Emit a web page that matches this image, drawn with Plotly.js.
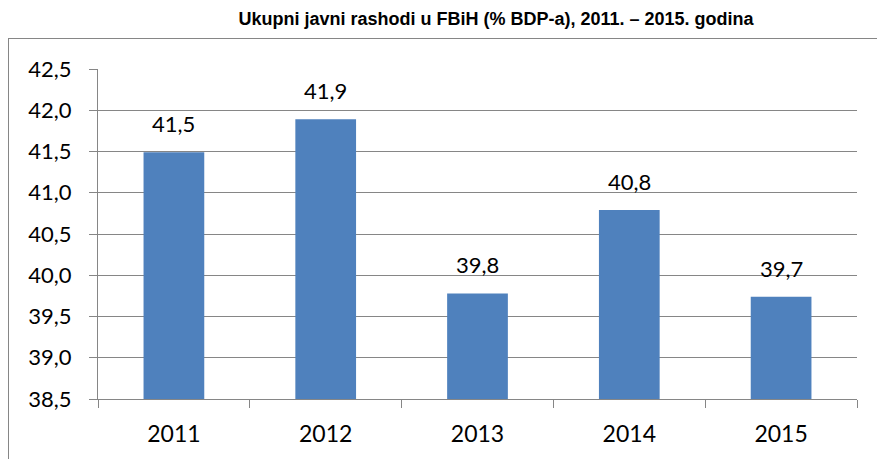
<!DOCTYPE html>
<html>
<head>
<meta charset="utf-8">
<script src="https://cdn.plot.ly/plotly-3.0.1.min.js"></script>
<style>
html,body{margin:0;padding:0;background:#fff;overflow:hidden;}
#wrap{position:relative;width:877px;height:459px;}
#chart{position:absolute;left:0;top:0;width:877px;height:459px;}
#frame{position:absolute;left:8px;top:38px;width:900px;height:500px;border:1px solid #868686;pointer-events:none;}
</style>
</head>
<body>
<div id="wrap"><div id="chart"></div><div id="frame"></div></div>
<script>
const years = ['2011', '2012', '2013', '2014', '2015'];
const values = [41.49, 41.89, 39.78, 40.79, 39.74];
const labels = ['41,5', '41,9', '39,8', '40,8', '39,7'];
const yTicks = [38.5, 39.0, 39.5, 40.0, 40.5, 41.0, 41.5, 42.0, 42.5];

const font = '"Lato", "Open Sans", sans-serif';

const annotations = years.map((yr, i) => ({
  x: i, y: values[i], xref: 'x', yref: 'y',
  text: labels[i], showarrow: false,
  yanchor: 'bottom', xanchor: 'center', yshift: 13,
  font: {family: font, size: 22, color: '#000'}
}));

Plotly.newPlot('chart', [{
  type: 'bar',
  x: years,
  y: values,
  marker: {color: '#4F81BD'},
  hoverinfo: 'none'
}], {
  width: 877, height: 459,
  margin: {l: 98, r: 20, t: 69, b: 60},
  paper_bgcolor: 'rgba(0,0,0,0)',
  plot_bgcolor: '#fff',
  separators: ',.',
  bargap: 0.6,
  showlegend: false,
  annotations: annotations,
  title: {
    text: 'Ukupni javni rashodi u FBiH (% BDP-a), 2011. \u2013 2015. godina',
    font: {family: '"Liberation Sans", Arial, sans-serif', size: 18, color: '#000', weight: 'bold'},
    x: 496/877, xanchor: 'center', xref: 'container', y: 1 - 19/459, yanchor: 'middle', yref: 'container'
  },
  xaxis: {
    type: 'category',
    range: [-0.5, 4.5],
    showline: true, linecolor: '#868686', linewidth: 1,
    ticks: 'outside', tickson: 'boundaries', ticklen: 8, tickcolor: '#868686',
    ticklabelstandoff: 14, tickangle: 0,
    tickfont: {family: font, size: 23, color: '#000'},
    showgrid: false, zeroline: false, fixedrange: true
  },
  yaxis: {
    range: [38.5, 42.5],
    tickvals: yTicks,
    tickformat: '.1f',
    showline: true, linecolor: '#868686', linewidth: 1,
    ticks: 'outside', ticklen: 8, tickcolor: '#868686',
    ticklabelstandoff: 13,
    showgrid: true, gridcolor: '#868686', gridwidth: 1,
    zeroline: false,
    tickfont: {family: font, size: 22, color: '#000'},
    fixedrange: true
  }
}, {displayModeBar: false, staticPlot: true});
</script>
</body>
</html>
